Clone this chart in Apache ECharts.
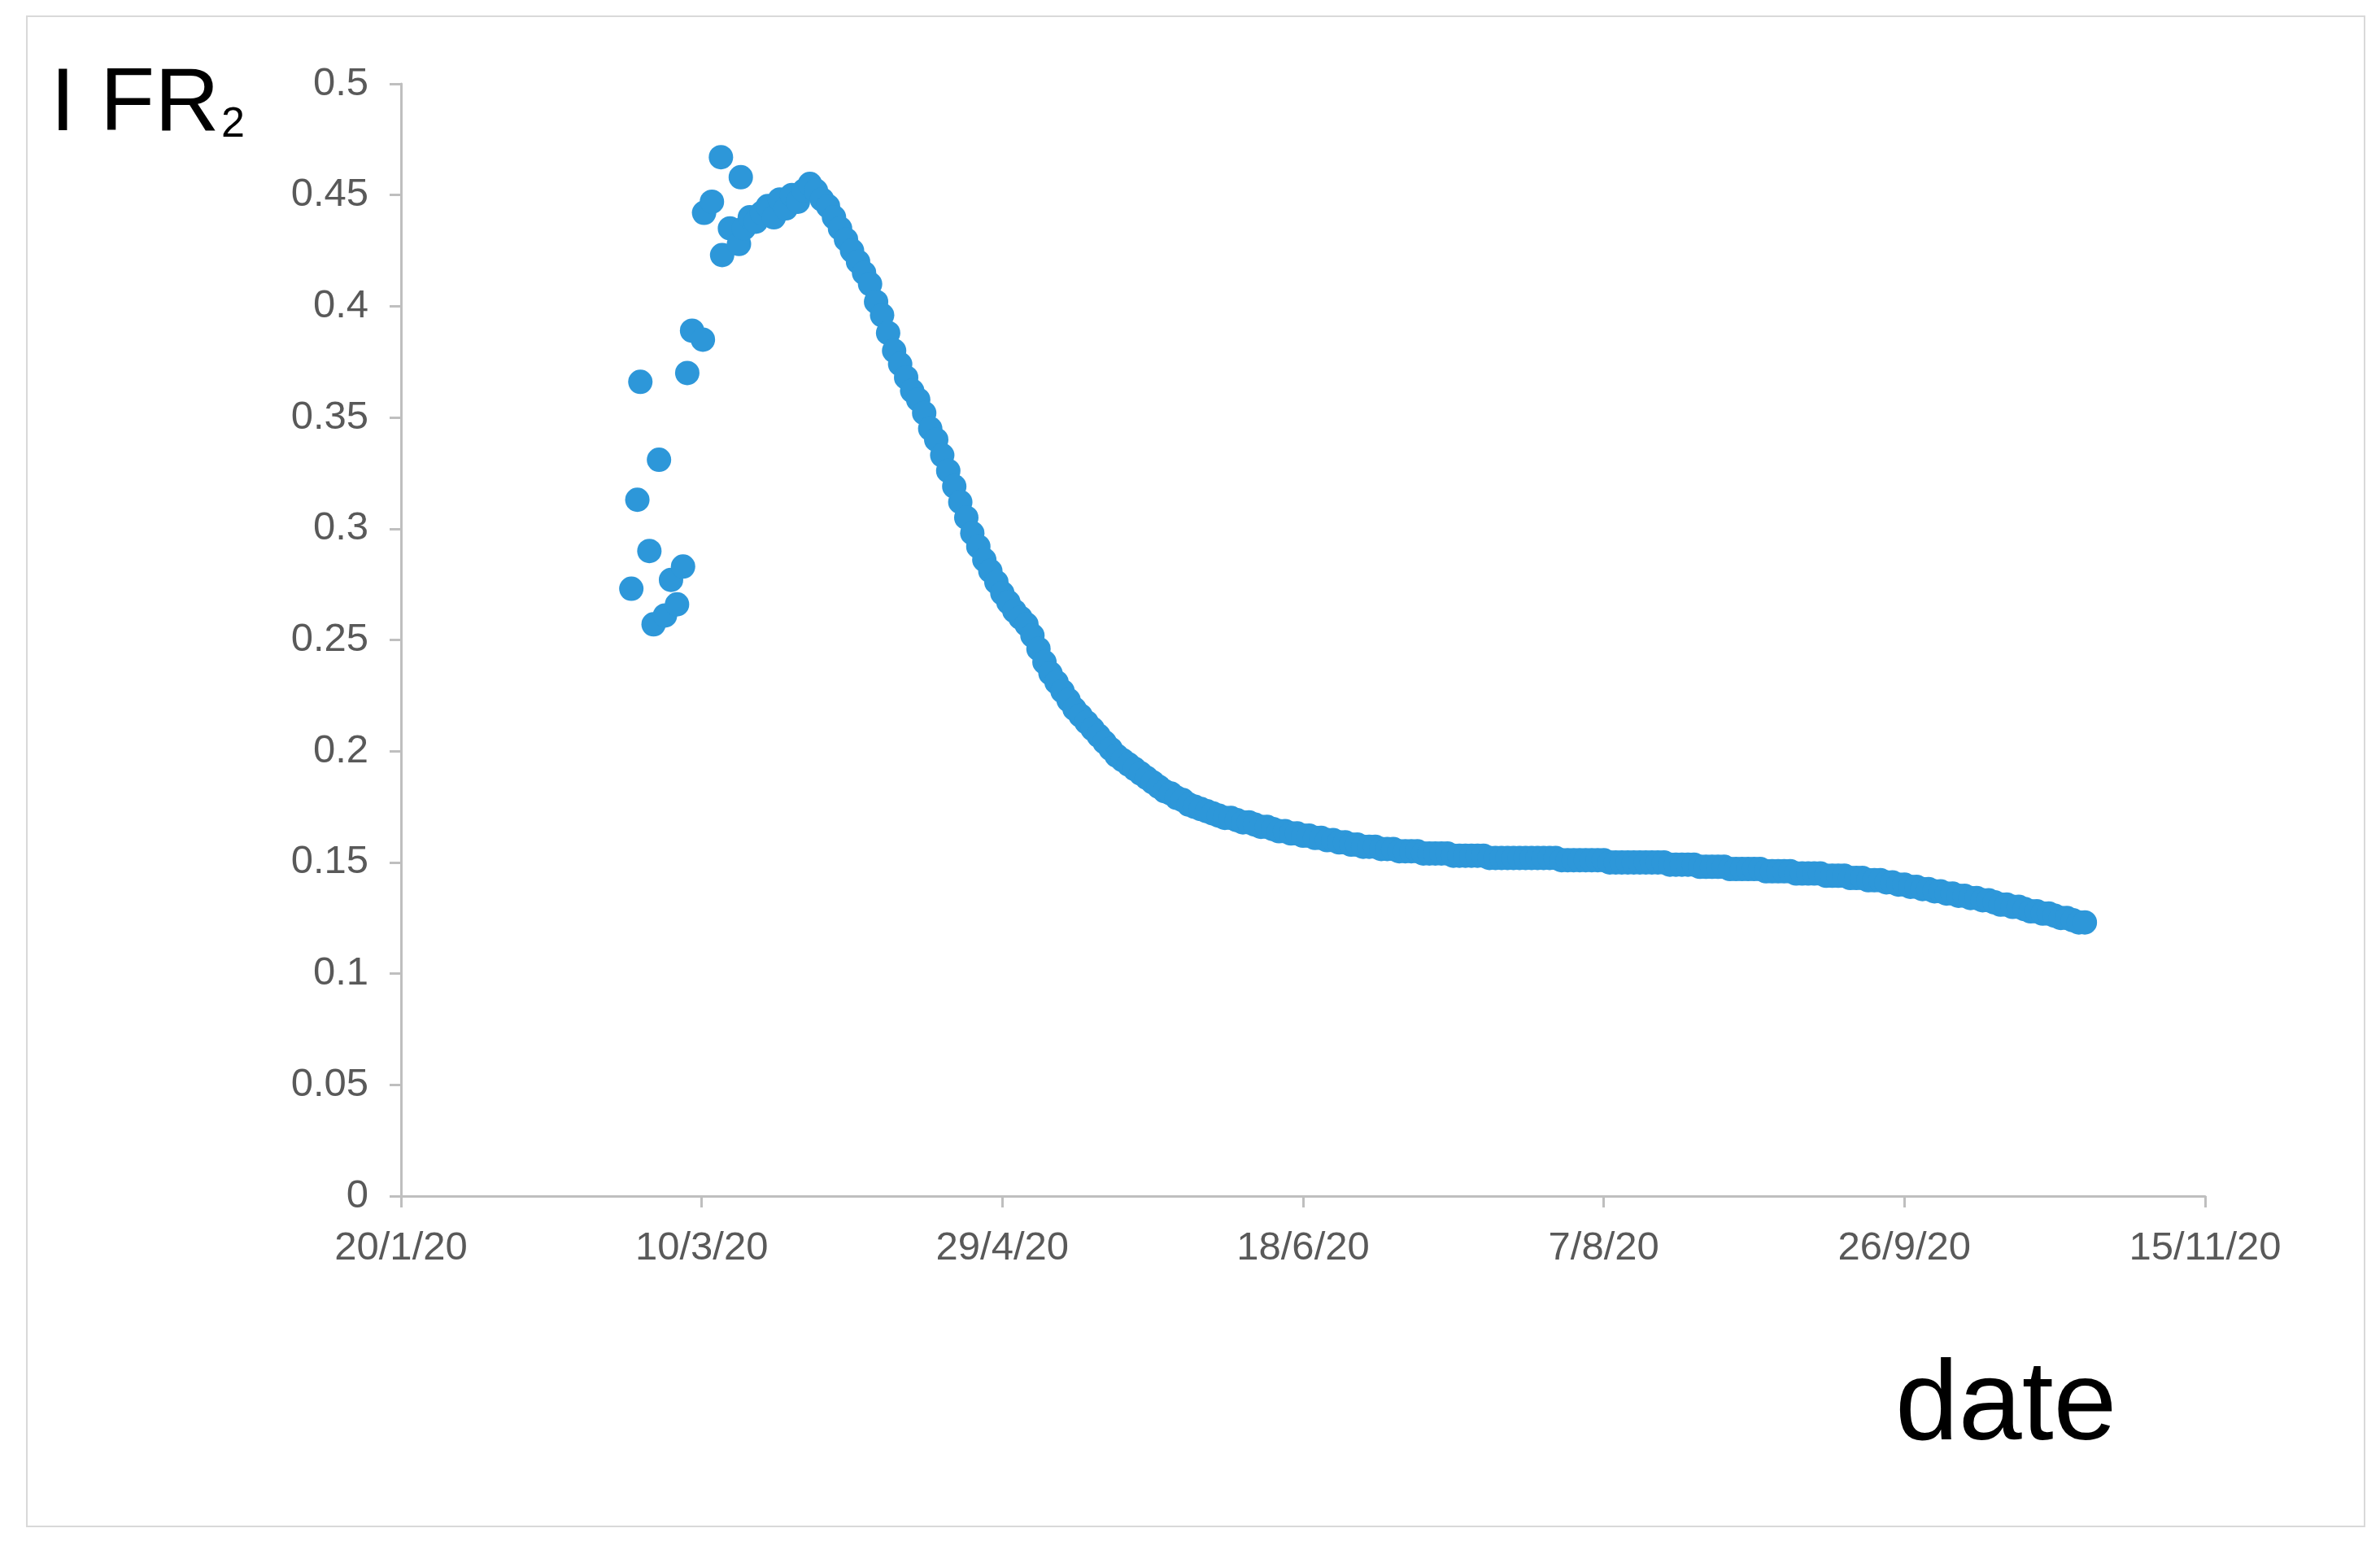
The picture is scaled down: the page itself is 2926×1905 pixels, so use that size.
<!DOCTYPE html>
<html>
<head>
<meta charset="utf-8">
<script src="https://cdn.jsdelivr.net/npm/echarts@6/dist/echarts.min.js"></script>
<style>
  html, body { margin: 0; padding: 0; background: #fff; }
  #frame { position: absolute; left: 32px; top: 19px; width: 2872px; height: 1854px; border: 2px solid #d9d9d9; }
  #chart { position: absolute; left: 0; top: 0; width: 2926px; height: 1905px; }
</style>
</head>
<body>
<div id="frame"></div>
<div id="chart"></div>
<script>
// x = days since 20/1/20
const earlyDays = [38.3, 39.3, 39.8, 41.3, 42, 42.9, 43.9, 44.9, 45.9, 46.9, 47.6, 48.4, 50.2, 50.4, 51.7, 53.2, 53.4, 54.7, 56.5, 56.2];
const earlyVals = [0.273, 0.313, 0.366, 0.290, 0.257, 0.331, 0.261, 0.277, 0.266, 0.283, 0.370, 0.389, 0.385, 0.442, 0.447, 0.467, 0.423, 0.435, 0.458, 0.428];

// daily values from day 57 onward
const dailyStart = 57;
const dailyVals = [
  0.435, 0.44, 0.438, 0.442, 0.445, 0.44, 0.448, 0.444, 0.45, 0.447, 0.452,
  0.455, 0.452, 0.448, 0.445, 0.44, 0.435, 0.43, 0.425, 0.42, 0.415, 0.41, 0.402, 0.396,
  0.388, 0.38, 0.374, 0.368, 0.362, 0.358, 0.352, 0.345, 0.34, 0.333,
  0.326, 0.319, 0.312, 0.305, 0.298, 0.292, 0.286, 0.281, 0.276, 0.271,
  0.267, 0.263, 0.26, 0.257, 0.252, 0.246, 0.24, 0.235, 0.231, 0.227,
  0.223, 0.219, 0.216, 0.213, 0.21, 0.207, 0.204, 0.201, 0.198, 0.196,
  0.194, 0.192, 0.19, 0.188, 0.186, 0.184, 0.182, 0.181, 0.179, 0.178,
  0.176, 0.175, 0.174, 0.173, 0.172, 0.171, 0.17, 0.17, 0.169, 0.168,
  0.168, 0.167, 0.166, 0.166, 0.165, 0.164, 0.164, 0.163, 0.163, 0.162,
  0.162, 0.161, 0.161, 0.16, 0.16, 0.159, 0.159, 0.158, 0.158, 0.157,
  0.157, 0.157, 0.156, 0.156, 0.156, 0.155, 0.155, 0.155, 0.155, 0.154,
  0.154, 0.154, 0.154, 0.154, 0.153, 0.153, 0.153, 0.153, 0.153, 0.153,
  0.152, 0.152, 0.152, 0.152, 0.152, 0.152, 0.152, 0.152, 0.152, 0.152,
  0.152, 0.152, 0.151, 0.151, 0.151, 0.151, 0.151, 0.151, 0.151, 0.151,
  0.15, 0.15, 0.15, 0.15, 0.15, 0.15, 0.15, 0.15, 0.15, 0.15,
  0.149, 0.149, 0.149, 0.149, 0.149, 0.148, 0.148, 0.148, 0.148, 0.148,
  0.147, 0.147, 0.147, 0.147, 0.147, 0.147, 0.146, 0.146, 0.146, 0.146,
  0.146, 0.145, 0.145, 0.145, 0.145, 0.145, 0.144, 0.144, 0.144, 0.144,
  0.143, 0.143, 0.143, 0.142, 0.142, 0.142, 0.141, 0.141, 0.14, 0.14,
  0.139, 0.139, 0.138, 0.138, 0.137, 0.137, 0.136, 0.136, 0.135, 0.135,
  0.134, 0.134, 0.133, 0.133, 0.132, 0.131, 0.131, 0.13, 0.13, 0.129,
  0.128, 0.128, 0.127, 0.127, 0.126, 0.125, 0.125, 0.124, 0.123, 0.123
];

const data = earlyDays.map((d, i) => [d, earlyVals[i]])
  .concat(dailyVals.map((v, i) => [dailyStart + i, v]));

function dayLabel(d) {
  const dt = new Date(Date.UTC(2020, 0, 20) + d * 86400000);
  return dt.getUTCDate() + '/' + (dt.getUTCMonth() + 1) + '/' + String(dt.getUTCFullYear()).slice(2);
}

const chart = echarts.init(document.getElementById('chart'));
const grey = '#595959';
chart.setOption({
  animation: false,
  grid: { left: 493, right: 215, top: 103, bottom: 435 },
  graphic: [
    { type: 'text', left: 62, top: 75, style: { text: 'I FR', font: '110px "Liberation Sans", sans-serif', fill: '#000' } },
    { type: 'text', left: 272, top: 128, style: { text: '2', font: '52px "Liberation Sans", sans-serif', fill: '#000' } },
    { type: 'text', left: 2330, top: 1660, style: { text: 'date', font: '140px "Liberation Sans", sans-serif', fill: '#000' } }
  ],
  xAxis: {
    type: 'value', min: 0, max: 300, interval: 50,
    axisLine: { lineStyle: { color: '#bfbfbf', width: 3 } },
    axisTick: { show: true, length: 14, lineStyle: { color: '#bfbfbf', width: 3 } },
    splitLine: { show: false },
    axisLabel: { formatter: dayLabel, color: grey, fontSize: 49, margin: 40, fontFamily: 'Liberation Sans' }
  },
  yAxis: {
    type: 'value', min: 0, max: 0.5, interval: 0.05,
    axisLine: { show: true, lineStyle: { color: '#bfbfbf', width: 3 } },
    axisTick: { show: true, length: 14, lineStyle: { color: '#bfbfbf', width: 3 } },
    splitLine: { show: false },
    axisLabel: { formatter: v => String(+v.toFixed(2)), color: grey, fontSize: 49, margin: 40, fontFamily: 'Liberation Sans' }
  },
  series: [{
    type: 'scatter',
    data: data,
    symbolSize: 30,
    itemStyle: { color: '#2d97d9', opacity: 1 }
  }]
});
</script>
</body>
</html>
